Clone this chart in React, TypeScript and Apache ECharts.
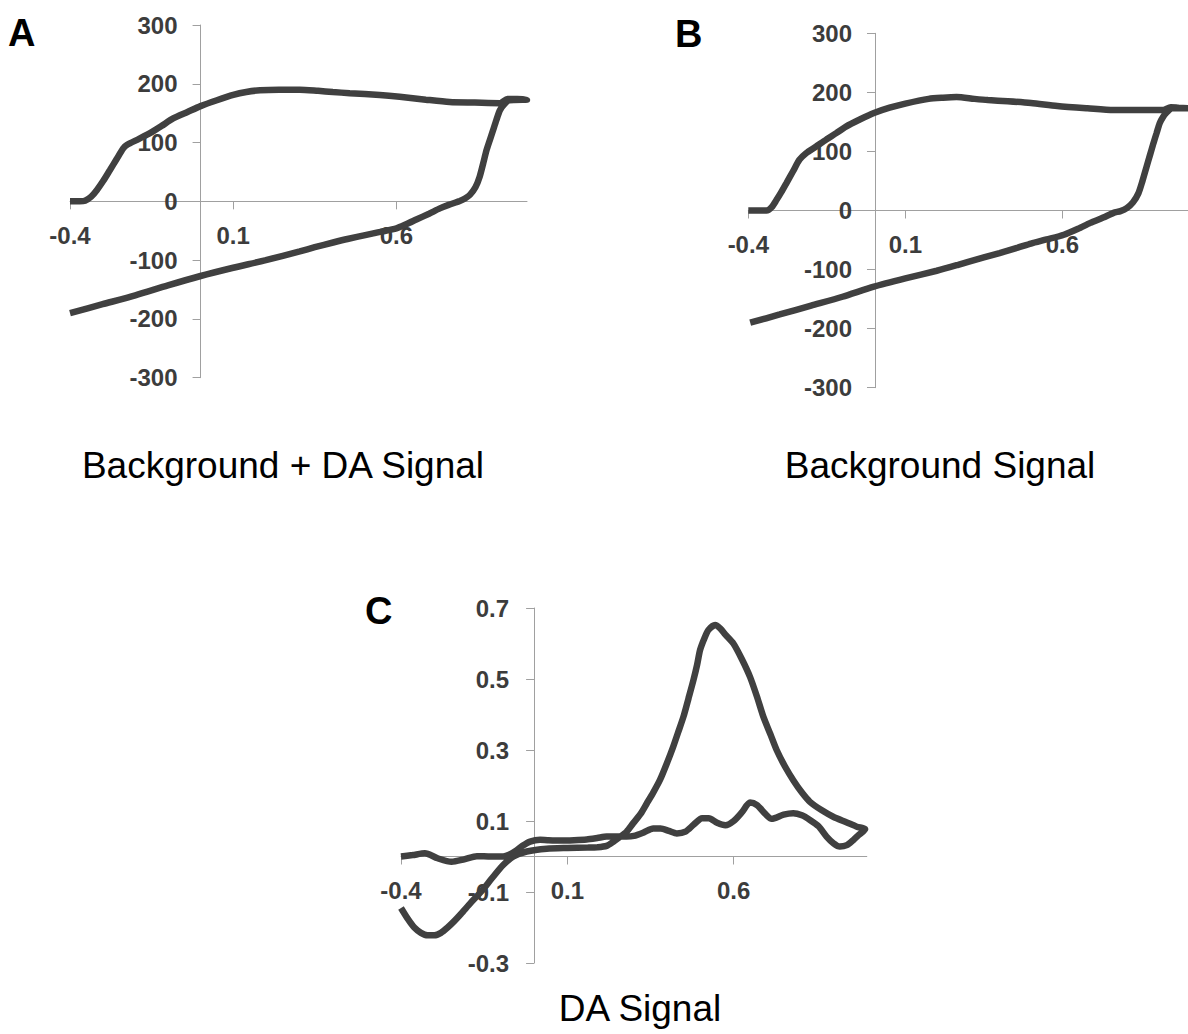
import React, { useEffect, useRef } from "react";
import * as echarts from "echarts";

// ---------- data ----------
const xTickValues = [-0.4, 0.1, 0.6];
const yTickValuesC = [-0.3, -0.1, 0.1, 0.3, 0.5, 0.7];

// Panel A: Background + DA signal (forward then reverse sweep), [potential, current]
const panelAForward: [number, number][] = [
  [-0.4, 0], [-0.37, 0], [-0.354, 1], [-0.335, 8], [-0.318, 19], [-0.298, 35], [-0.278, 53],
  [-0.257, 72], [-0.237, 90], [-0.226, 96], [-0.19, 106], [-0.155, 116], [-0.12, 128],
  [-0.084, 141], [-0.04, 152], [0.0, 162], [0.05, 172], [0.1, 181], [0.14, 186], [0.182, 189],
  [0.24, 190], [0.304, 190], [0.36, 188], [0.405, 186], [0.457, 184], [0.549, 181], [0.61, 178],
  [0.69, 173], [0.763, 169], [0.84, 168], [0.917, 167], [0.94, 174], [0.97, 174], [1.0, 173],
];
const panelAReverse: [number, number][] = [
  [1.0, 173], [0.945, 172], [0.93, 165], [0.917, 155], [0.906, 138], [0.896, 121], [0.886, 104],
  [0.876, 87], [0.866, 65], [0.855, 42], [0.842, 24], [0.825, 11], [0.81, 5], [0.794, 0.5],
  [0.76, -6], [0.733, -12], [0.7, -21], [0.661, -31], [0.63, -39], [0.6, -46], [0.55, -52],
  [0.508, -57], [0.45, -64], [0.406, -70], [0.35, -78], [0.304, -85], [0.2, -100], [0.1, -113],
  [0.0, -127], [-0.1, -143], [-0.2, -160], [-0.3, -175], [-0.4, -190],
];

// Panel B: Background signal
const panelBForward: [number, number][] = [
  [-0.4, 0], [-0.342, 0], [-0.325, 6], [-0.31, 18], [-0.295, 31], [-0.279, 46], [-0.258, 66],
  [-0.237, 86], [-0.216, 97], [-0.185, 108], [-0.152, 120], [-0.12, 131], [-0.089, 142],
  [-0.045, 154], [0.0, 165], [0.05, 174], [0.1, 181], [0.174, 189], [0.22, 191], [0.263, 192],
  [0.32, 189], [0.363, 187], [0.426, 185], [0.5, 182], [0.584, 177], [0.68, 173], [0.763, 170],
  [0.84, 170], [0.921, 170], [0.945, 175], [0.97, 174], [1.0, 173],
];
const panelBReverse: [number, number][] = [
  [1.0, 173], [0.95, 173], [0.93, 165], [0.92, 158], [0.91, 148], [0.9, 131], [0.89, 114],
  [0.879, 94], [0.868, 74], [0.855, 50], [0.842, 29], [0.825, 14], [0.805, 4], [0.785, -1],
  [0.763, -4], [0.73, -12], [0.689, -21], [0.65, -31], [0.605, -41], [0.55, -49], [0.5, -56],
  [0.458, -63], [0.4, -72], [0.3, -87], [0.268, -92], [0.2, -102], [0.1, -115], [0.0, -129],
  [-0.1, -146], [-0.2, -161], [-0.3, -176], [-0.394, -190],
];

// Panel C: DA signal (difference)
const panelCForward: [number, number][] = [
  [-0.4, -0.145], [-0.38, -0.175], [-0.36, -0.2], [-0.34, -0.215], [-0.32, -0.222],
  [-0.3, -0.222], [-0.28, -0.215], [-0.26, -0.2], [-0.24, -0.182], [-0.22, -0.162],
  [-0.19, -0.13], [-0.16, -0.1], [-0.123, -0.057], [-0.093, -0.024], [-0.062, 0],
  [-0.022, 0.014], [0.038, 0.022], [0.1, 0.024], [0.16, 0.025], [0.19, 0.026], [0.218, 0.03],
  [0.24, 0.043], [0.258, 0.055], [0.278, 0.07], [0.298, 0.094], [0.32, 0.12], [0.339, 0.15],
  [0.358, 0.18], [0.378, 0.215], [0.398, 0.26], [0.418, 0.309], [0.433, 0.35], [0.449, 0.394],
  [0.464, 0.445], [0.479, 0.497], [0.49, 0.54], [0.499, 0.582], [0.512, 0.615], [0.524, 0.638],
  [0.544, 0.652], [0.56, 0.642], [0.575, 0.625], [0.599, 0.6], [0.625, 0.555], [0.649, 0.506],
  [0.67, 0.45], [0.689, 0.394], [0.71, 0.345], [0.729, 0.3], [0.755, 0.252], [0.779, 0.215],
  [0.805, 0.18], [0.829, 0.154], [0.865, 0.13], [0.899, 0.112], [0.94, 0.096], [0.97, 0.084],
  [0.995, 0.077],
];
const panelCReverse: [number, number][] = [
  [0.995, 0.077], [0.975, 0.06], [0.959, 0.046], [0.94, 0.032], [0.919, 0.028], [0.9, 0.037],
  [0.879, 0.056], [0.855, 0.085], [0.829, 0.103], [0.805, 0.116], [0.779, 0.122], [0.75, 0.118],
  [0.714, 0.106], [0.695, 0.12], [0.67, 0.145], [0.649, 0.152], [0.625, 0.125], [0.6, 0.1],
  [0.575, 0.088], [0.55, 0.095], [0.525, 0.108], [0.505, 0.108], [0.48, 0.09], [0.455, 0.07],
  [0.429, 0.065], [0.405, 0.072], [0.38, 0.079], [0.358, 0.079], [0.33, 0.068], [0.3, 0.058],
  [0.278, 0.056], [0.248, 0.056], [0.218, 0.056], [0.19, 0.052], [0.158, 0.048], [0.12, 0.046],
  [0.078, 0.045], [0.04, 0.046], [0.018, 0.047], [-0.012, 0.042], [-0.035, 0.03],
  [-0.052, 0.018], [-0.075, 0.005], [-0.093, 0], [-0.13, 0], [-0.172, 0.001], [-0.21, -0.008],
  [-0.248, -0.015], [-0.29, -0.005], [-0.328, 0.009], [-0.365, 0.004], [-0.4, 0],
];

const panelLetters = ["A", "B", "C"];
const captions = ["Background + DA Signal", "Background Signal", "DA Signal"];

// ---------- styling ----------
const FONT = "'Liberation Sans', Arial, Helvetica, sans-serif";
const AXIS = "#a0a0a0";
const LABEL = "#3c3c3c";
const LINE = "#404040";
const TICK_FONT = 24;

const X_MIN = -0.4;
const X_MAX = 1.0;

type Box = { left: number; top: number; width: number; height: number; yMin: number; yMax: number };
const boxes: Box[] = [
  { left: 70, top: 25, width: 457, height: 352.7, yMin: -300, yMax: 300 },
  { left: 748.3, top: 33.3, width: 443.4, height: 354.4, yMin: -300, yMax: 300 },
  { left: 401, top: 608, width: 465.8, height: 355, yMin: -0.3, yMax: 0.7 },
];

// offsets that move axes onto the zero lines
const xAxisOffset = (b: Box) => -(b.height * (0 - b.yMin)) / (b.yMax - b.yMin);
const yAxisOffset = (b: Box) => -(b.width * (0 - X_MIN)) / (X_MAX - X_MIN);

function xAxisFor(gridIndex: number) {
  return {
    type: "value",
    gridIndex,
    position: "bottom",
    offset: xAxisOffset(boxes[gridIndex]),
    min: X_MIN,
    max: X_MAX,
    axisLine: { show: true, onZero: false, lineStyle: { color: AXIS, width: 1 } },
    axisTick: { show: true, length: 8, customValues: xTickValues, lineStyle: { color: AXIS } },
    axisLabel: {
      customValues: xTickValues,
      margin: 22,
      color: LABEL,
      fontSize: TICK_FONT,
      fontWeight: "bold",
      fontFamily: FONT,
      formatter: (v: number) => v.toFixed(1),
    },
    splitLine: { show: false },
  };
}

function yAxisAB(gridIndex: number) {
  return {
    type: "value",
    gridIndex,
    position: "left",
    offset: yAxisOffset(boxes[gridIndex]),
    min: -300,
    max: 300,
    interval: 100,
    axisLine: { show: true, onZero: false, lineStyle: { color: AXIS, width: 1 } },
    axisTick: { show: true, length: 8, lineStyle: { color: AXIS } },
    axisLabel: {
      margin: 23,
      color: LABEL,
      fontSize: TICK_FONT,
      fontWeight: "bold",
      fontFamily: FONT,
      formatter: (v: number) => String(Math.round(v)),
    },
    splitLine: { show: false },
  };
}

export default function App() {
  const ref = useRef<HTMLDivElement>(null);

  useEffect(() => {
    if (!ref.current) return;
    const chart = echarts.init(ref.current, null, { renderer: "svg" });
    const lineSeries = (idx: number, fwd: [number, number][], rev: [number, number][]) => ({
      type: "line",
      xAxisIndex: idx,
      yAxisIndex: idx,
      data: [...fwd, ...rev.slice(1)],
      showSymbol: false,
      smooth: 0.25,
      lineStyle: { color: LINE, width: 6.5 },
      z: 5,
    });
    const caption = (text: string, x: number, y: number) => ({
      type: "text",
      x,
      y,
      style: {
        text,
        fill: "#000",
        font: `37px ${FONT}`,
        textAlign: "center",
        textVerticalAlign: "middle",
        align: "center",
        verticalAlign: "middle",
      },
    });
    const letter = (text: string, x: number, y: number) => ({
      type: "text",
      x,
      y,
      style: {
        text,
        fill: "#000",
        font: `bold 38px ${FONT}`,
        textAlign: "left",
        textVerticalAlign: "middle",
        align: "left",
        verticalAlign: "middle",
      },
    });
    chart.setOption({
      animation: false,
      backgroundColor: "#ffffff",
      grid: boxes.map((b) => ({ left: b.left, top: b.top, width: b.width, height: b.height })),
      xAxis: [xAxisFor(0), xAxisFor(1), xAxisFor(2)],
      yAxis: [
        yAxisAB(0),
        yAxisAB(1),
        {
          type: "value",
          gridIndex: 2,
          position: "left",
          offset: yAxisOffset(boxes[2]),
          min: -0.3,
          max: 0.7,
          axisLine: { show: true, onZero: false, lineStyle: { color: AXIS, width: 1 } },
          axisTick: { show: true, length: 8, customValues: yTickValuesC, lineStyle: { color: AXIS } },
          axisLabel: {
            customValues: yTickValuesC,
            margin: 25,
            color: LABEL,
            fontSize: TICK_FONT,
            fontWeight: "bold",
            fontFamily: FONT,
            formatter: (v: number) => v.toFixed(1),
          },
          splitLine: { show: false },
        },
      ],
      series: [
        lineSeries(0, panelAForward, panelAReverse),
        lineSeries(1, panelBForward, panelBReverse),
        lineSeries(2, panelCForward, panelCReverse),
      ],
      graphic: [
        letter(panelLetters[0], 8, 33),
        letter(panelLetters[1], 675, 34),
        letter(panelLetters[2], 365, 611),
        caption(captions[0], 283, 465),
        caption(captions[1], 940, 465),
        caption(captions[2], 640, 1008),
      ],
    });
    return () => chart.dispose();
  }, []);

  return (
    <div
      ref={ref}
      style={{ position: "fixed", left: 0, top: 0, width: 1188, height: 1034, background: "#fff" }}
    />
  );
}
